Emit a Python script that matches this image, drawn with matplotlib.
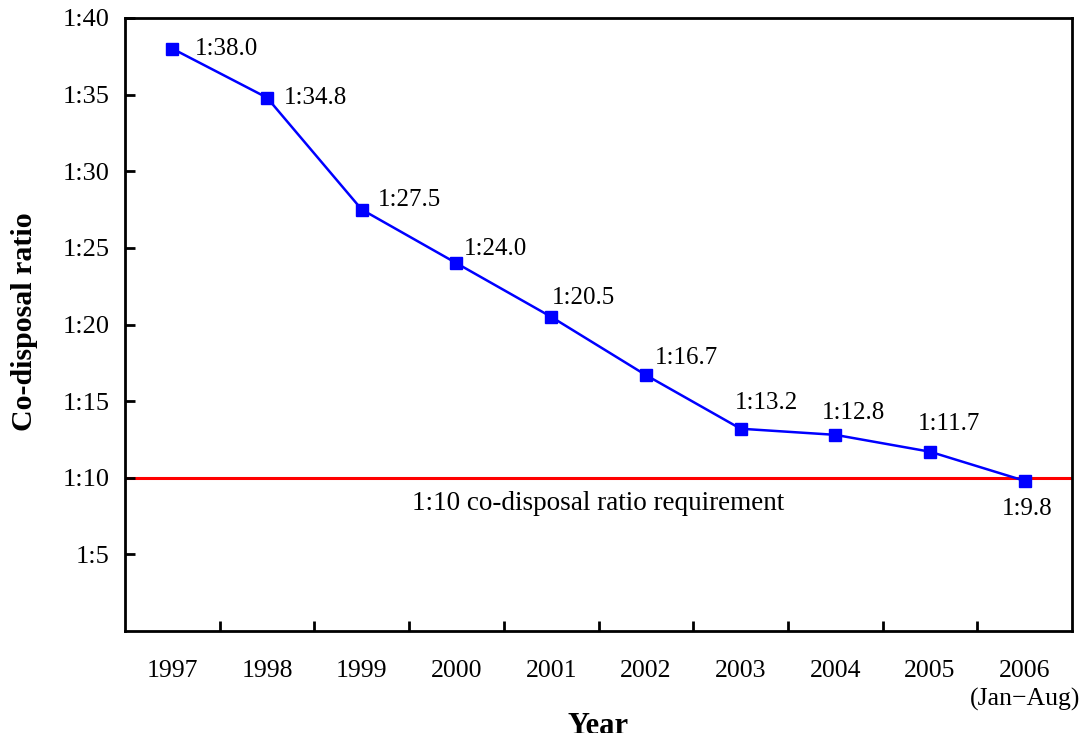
import matplotlib
matplotlib.use("Agg")
import matplotlib.pyplot as plt

# co-disposal ratio (1:x), x values per year
years = ['1997', '1998', '1999', '2000', '2001', '2002', '2003', '2004', '2005', '2006\n(Jan\u2212Aug)']
ratio = [38.0, 34.8, 27.5, 24.0, 20.5, 16.7, 13.2, 12.8, 11.7, 9.8]
point_labels = ['1:38.0', '1:34.8', '1:27.5', '1:24.0', '1:20.5', '1:16.7', '1:13.2', '1:12.8', '1:11.7', '1:9.8']
requirement = 10
y_ticks = [5, 10, 15, 20, 25, 30, 35, 40]
y_ticklabels = ['1:5', '1:10', '1:15', '1:20', '1:25', '1:30', '1:35', '1:40']

# label offsets in pixels (dx, dy) and horizontal alignment
label_offsets = [(23, 0), (17, 0), (16, 10), (7, 14), (1, 19), (9, 17), (-6, 26), (-13, 22), (-12, 28), (3, -28)]
label_ha = ['left'] * 9 + ['center']

plt.rcParams['font.family'] = 'Liberation Serif'
plt.rcParams['font.size'] = 17

fig = plt.figure(figsize=(10.82, 7.33), dpi=100)
ax = fig.add_axes([125/1082, 1 - 631/733, 947/1082, 613/733])

x = list(range(len(years)))
ax.axhline(requirement, color='#ff0000', lw=2.2, zorder=1)
ax.plot(x, ratio, color='#0000ff', lw=1.8, marker='s', markersize=9, zorder=3)

for i in x:
    dx, dy = label_offsets[i]
    ax.annotate(point_labels[i], (x[i], ratio[i]), xytext=(dx, dy), textcoords='offset pixels',
                ha=label_ha[i], va='center', fontsize=18)

ax.text(4.5, 8.3, '1:10 co-disposal ratio requirement', ha='center', va='center', fontsize=19.5)

ax.set_xlim(-0.5, len(years) - 0.5)
ax.set_ylim(0, 40)

ax.set_yticks(y_ticks)
ax.set_yticklabels(y_ticklabels, fontsize=19)
ax.set_xticks(x)
ax.set_xticklabels(years, fontsize=18.5, linespacing=1.35)
ax.set_xticks([i + 0.5 for i in x[:-1]], minor=True)

ax.tick_params(axis='x', which='major', length=0, pad=21)
ax.tick_params(axis='x', which='minor', direction='in', length=7, width=2)
ax.tick_params(axis='y', direction='in', length=7, width=2, pad=11)

for s in ax.spines.values():
    s.set_linewidth(2)

ax.set_xlabel('Year', fontweight='bold', fontsize=22)
ax.xaxis.set_label_coords(0.5, -0.132)
fig.text(25/1082, 1 - 322/733, 'Co-disposal ratio', rotation=90, ha='center', va='center',
         fontweight='bold', fontsize=21.5)

fig.savefig('out.png', dpi=100)
